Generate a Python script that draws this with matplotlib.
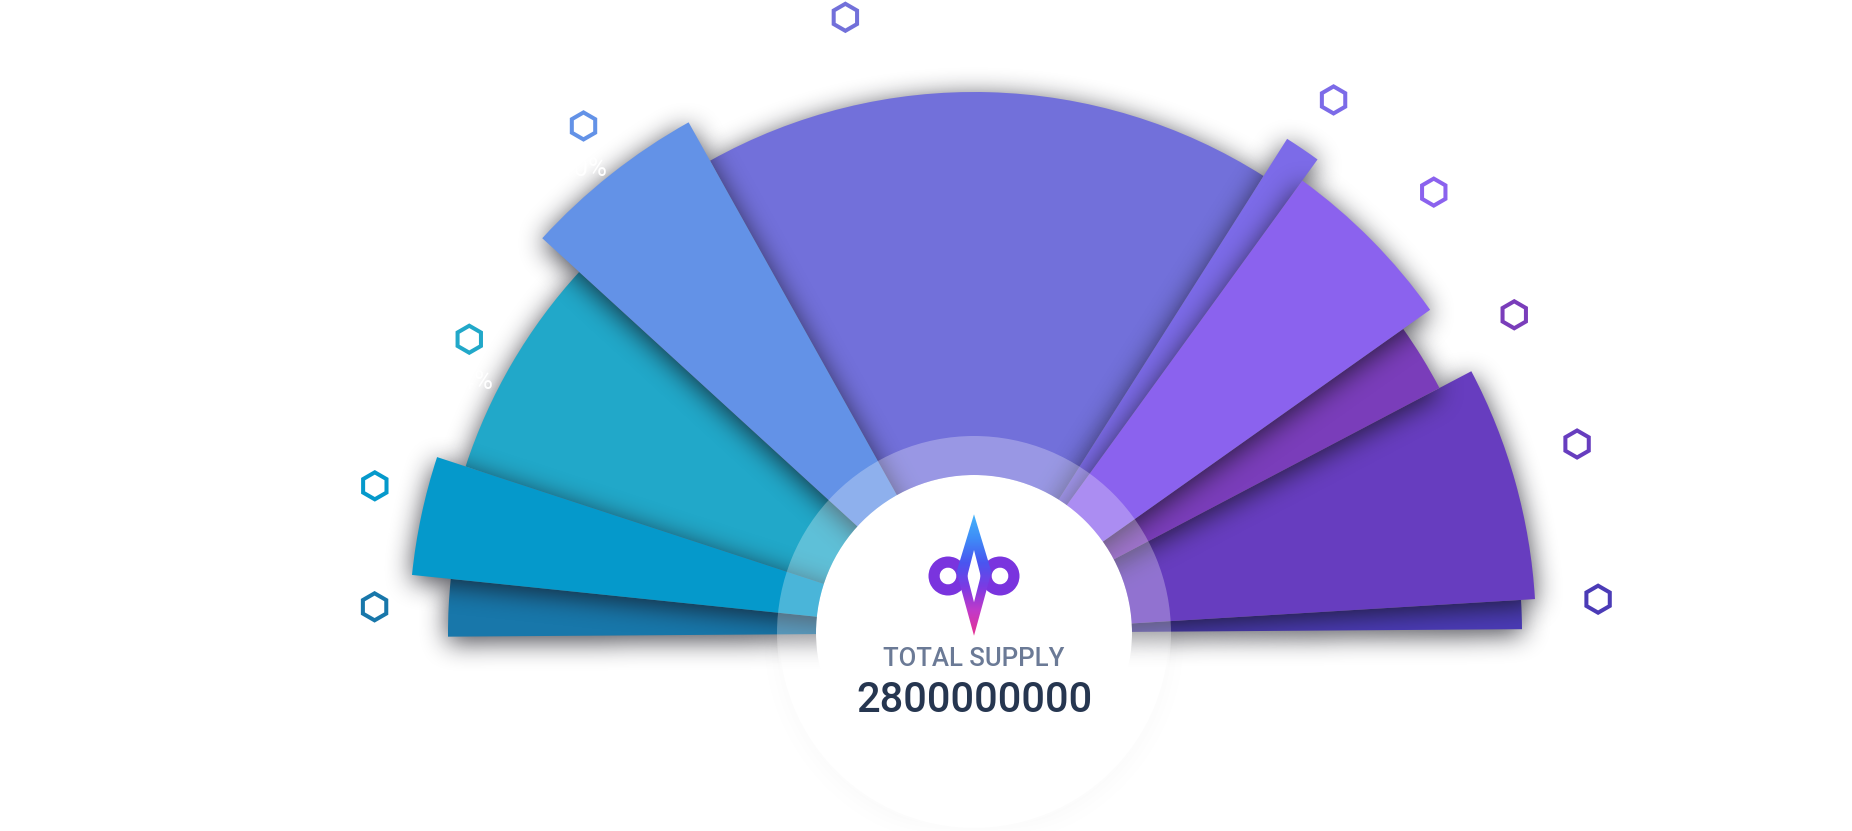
import numpy as np
import matplotlib
matplotlib.use("Agg")
import matplotlib.pyplot as plt
from matplotlib.patches import Wedge, Circle, RegularPolygon, PathPatch
from matplotlib.path import Path
from matplotlib.colors import LinearSegmentedColormap

# ---------------- data ----------------
shares = [3.5, 6.8, 13.5, 10.2, 34.2, 2.0, 10.4, 4.2, 13.5, 1.7]          # % of supply (angle)
radii = [526, 565, 535, 585, 541, 585, 559, 526, 562, 548]                 # slice length
colors = ["#1877AA", "#0599CB", "#21A8C9", "#6392E7", "#7270DA",
          "#7C6BE8", "#8B62EE", "#7A3DBA", "#673DBF", "#4B3BB6"]
draw_order = [4, 2, 0, 9, 8, 7, 5, 6, 1, 3]
label_angle = [177.5, 166.2, 149.8, 127.6, 101.8, 56.0, 43.8, 30.5, 17.4, 3.1]
label_radius = [600, 617, 584, 640, 629, 643, 637, 627, 632, 625]
total_supply = "2800000000"
start_angle = 180.4

# ---------------- figure ----------------
W, H = 1852, 831
CX, CY = 974, 633
fig = plt.figure(figsize=(W / 100, H / 100), dpi=100)
ax = fig.add_axes([0, 0, 1, 1])
ax.set_xlim(-CX, W - CX)
ax.set_ylim(-(H - CY), CY)
ax.set_aspect("equal")
ax.axis("off")
extent = (-CX, W - CX, -(H - CY), CY)

xs = np.arange(W) - CX + 0.5
ys = CY - np.arange(H) - 0.5
X, Y = np.meshgrid(xs, ys)


def box(a, r, axis):
    a = np.moveaxis(a, axis, 0)
    p = np.pad(a, ((r + 1, r), (0, 0)))
    c = np.cumsum(p, axis=0)
    out = (c[2 * r + 1:] - c[:-2 * r - 1]) / (2 * r + 1)
    return np.moveaxis(out, 0, axis)


def blur(a, r):
    for axis in (0, 1):
        for _ in range(3):
            a = box(a, r, axis)
    return a


def shadow_image(mask, strength, r, col=(0.08, 0.08, 0.12)):
    b = blur(mask.astype(float), r)
    img = np.zeros((H, W, 4))
    img[..., 0], img[..., 1], img[..., 2] = col
    img[..., 3] = np.clip(strength * b, 0, 1)
    return img


# wedge angles
angles = []
a = start_angle
for s in shares:
    span = s * 1.8
    angles.append((a - span, a))
    a -= span

# faint shadow of the big disc
Rd = np.hypot(X, Y + 6)
ax.imshow(shadow_image(Rd <= 192, 0.035, 14), extent=extent, origin="upper",
          zorder=0, interpolation="bilinear")
ax.add_patch(Circle((0, 0), 195, facecolor="white", edgecolor="none", zorder=0.5))

# slice shadows + slices
Ys = Y + 5
Rs = np.hypot(X, Ys)
Ts = np.degrees(np.arctan2(Ys, X))
Ts = np.where(Ts < -90, Ts + 360, Ts)
for k, idx in enumerate(draw_order):
    t2, t1 = angles[idx]
    m = (Rs <= radii[idx]) & (Ts >= t2) & (Ts <= t1)
    ax.imshow(shadow_image(m, 0.8, 12), extent=extent, origin="upper",
              zorder=1 + 2 * k, interpolation="bilinear")
    ax.add_patch(Wedge((0, 0), radii[idx], t2, t1, facecolor=colors[idx],
                       edgecolor="none", zorder=2 + 2 * k))

# translucent ring + inner disc
ax.add_patch(Wedge((0, 0), 197, 0, 360, width=39, facecolor="white",
                   edgecolor="none", alpha=0.28, zorder=40))
ax.add_patch(Circle((0, 0), 158, facecolor="white", edgecolor="none", zorder=41))

# logo
ring_col = "#7A34DE"
for cx in (-26, 26):
    ax.add_patch(Wedge((cx, 57), 19.5, 0, 360, width=11.2, facecolor=ring_col,
                       edgecolor="none", zorder=42))
outer = [(0, 118.7), (-17.5, 61), (0, -2.7), (17.5, 61), (0, 118.7)]
inner = [(0, 83), (6.7, 57), (0, 30.7), (-6.7, 57), (0, 83)]
verts = outer + inner
codes = ([Path.MOVETO] + [Path.LINETO] * 3 + [Path.CLOSEPOLY]) * 2
dpath = Path(verts, codes)
cmap = LinearSegmentedColormap.from_list(
    "logo", ["#E5318F", "#C33AC8", "#7C3BE3", "#4A55F0", "#3F8CF7", "#45B5FA"])
grad = np.linspace(0, 1, 256).reshape(-1, 1)
im = ax.imshow(grad, extent=(-20, 20, -3, 119), origin="lower", cmap=cmap,
               zorder=43, aspect="auto")
im.set_clip_path(PathPatch(dpath, transform=ax.transData))

# center text
ax.text(0, -33, "TOTAL SUPPLY", ha="center", va="baseline", fontsize=18.5,
        color="#6B7A96", family="Roboto", fontweight="medium", zorder=45)
ax.text(0, -78.5, total_supply, ha="center", va="baseline", fontsize=30,
        color="#263650", family="Roboto", fontweight="medium", zorder=45)

# hexagon markers and (white) percentage labels
for i in range(len(shares)):
    th = np.radians(label_angle[i])
    hx, hy = label_radius[i] * np.cos(th), label_radius[i] * np.sin(th)
    ax.add_patch(RegularPolygon((hx, hy), numVertices=6, radius=13.5,
                                orientation=0, facecolor="none",
                                edgecolor=colors[i], linewidth=2.9, zorder=50))
    if label_angle[i] > 90:
        ax.text(hx, hy - 50, f"{round(shares[i])}%", ha="center", va="baseline",
                fontsize=18.5, color="white", family="Roboto", zorder=50)
    else:
        ax.text(hx + 28, hy - 8, f"{round(shares[i])}%", ha="left", va="baseline",
                fontsize=18.5, color="white", family="Roboto", zorder=50)

fig.savefig("out.png", dpi=100, facecolor="white")
